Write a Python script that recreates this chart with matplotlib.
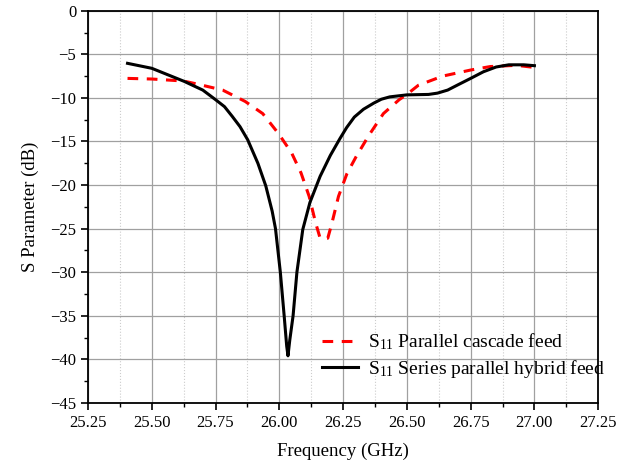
import numpy as np
import matplotlib.pyplot as plt
from matplotlib.ticker import MultipleLocator

plt.rcParams['font.family'] = ['Liberation Serif', 'DejaVu Serif']
plt.rcParams['mathtext.fontset'] = 'custom'
plt.rcParams['mathtext.rm'] = 'Liberation Serif'
plt.rcParams['mathtext.it'] = 'Liberation Serif:italic'

# Series parallel hybrid feed (black)
freq_hybrid = [25.405, 25.5, 25.627, 25.70, 25.75, 25.785, 25.815, 25.846, 25.876, 25.916,
               25.947, 25.972, 25.985, 26.004, 26.019, 26.029, 26.034, 26.041, 26.054,
               26.069, 26.092, 26.12, 26.16, 26.2, 26.237, 26.264, 26.294, 26.33, 26.37,
               26.4, 26.433, 26.5, 26.585, 26.62, 26.66, 26.7, 26.75, 26.8, 26.85,
               26.9, 26.958, 27.0]
s11_hybrid = [-6.03, -6.6, -8.1, -9.1, -10.2, -11.0, -12.1, -13.3, -14.8, -17.5,
              -20.1, -23.0, -25.0, -30.0, -35.0, -38.5, -39.6, -37.8, -35.0,
              -30.0, -25.1, -22.0, -19.0, -16.6, -14.7, -13.4, -12.2, -11.3, -10.6,
              -10.15, -9.88, -9.65, -9.6, -9.45, -9.1, -8.5, -7.76, -7.0, -6.45,
              -6.2, -6.2, -6.3]

# Parallel cascade feed (red dashed)
freq_cascade = [25.405, 25.5, 25.624, 25.677, 25.778, 25.866, 25.935, 25.997, 26.048,
                26.085, 26.117, 26.142, 26.16, 26.19, 26.206, 26.232, 26.265, 26.3,
                26.351, 26.408, 26.47, 26.5, 26.545, 26.64, 26.75, 26.827, 26.93, 27.0]
s11_cascade = [-7.76, -7.83, -8.06, -8.4, -9.1, -10.4, -11.8, -14.1, -16.3,
               -18.6, -21.3, -24.3, -26.1, -26.1, -24.4, -21.3, -18.7, -16.8,
               -14.3, -11.8, -10.2, -9.6, -8.55, -7.5, -6.8, -6.4, -6.26, -6.5]

fig = plt.figure(figsize=(6.33, 4.69), dpi=100)
ax = fig.add_axes([0.139, 0.141, 0.806, 0.836])

ax.plot(freq_cascade, s11_cascade, color='red', lw=2.2, dashes=(3.5, 2.8),
        label=r'S$_{11}$ Parallel cascade feed', zorder=3)
ax.plot(freq_hybrid, s11_hybrid, color='black', lw=2.2,
        label=r'S$_{11}$ Series parallel hybrid feed', zorder=3)

ax.set_xlim(25.25, 27.25)
ax.set_ylim(-45, 0)
ax.xaxis.set_major_locator(MultipleLocator(0.25))
ax.xaxis.set_minor_locator(MultipleLocator(0.125))
ax.yaxis.set_major_locator(MultipleLocator(5))
ax.yaxis.set_minor_locator(MultipleLocator(2.5))
ax.xaxis.set_major_formatter(plt.FormatStrFormatter('%.2f'))

ax.grid(True, which='major', color='#a0a0a0', lw=0.9, ls='-')
ax.grid(True, which='minor', axis='x', color='#cccccc', lw=0.8, ls=':')
ax.set_axisbelow(True)

ax.tick_params(which='both', direction='out', labelsize=12)
ax.tick_params(which='major', length=5, width=1.2)
ax.tick_params(which='minor', length=3, width=1.0)
for s in ax.spines.values():
    s.set_linewidth(1.3)

ax.set_xlabel('Frequency (GHz)', fontsize=13.5, labelpad=9)
ax.set_ylabel('S Parameter (dB)', fontsize=13.5, labelpad=8)

fig.legend(loc='upper left', frameon=False, fontsize=14, handlelength=1.85,
           handletextpad=0.55, labelspacing=0.3, borderpad=0,
           bbox_to_anchor=(312 / 633, 1 - 322 / 469))

fig.savefig('out.png', dpi=100)
